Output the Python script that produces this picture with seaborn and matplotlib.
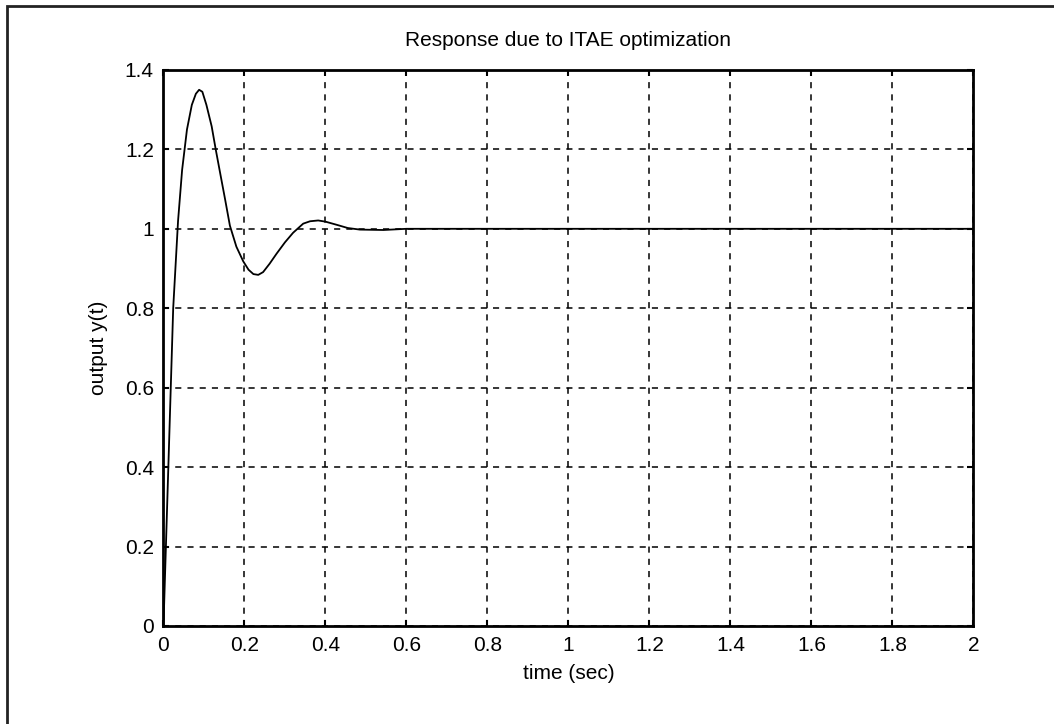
import numpy as np
import pandas as pd
import matplotlib
matplotlib.use("Agg")
import matplotlib.pyplot as plt
import seaborn as sns
from matplotlib.patches import Rectangle

# step response
time_sec = [0.0, 0.012, 0.024, 0.036, 0.046, 0.058, 0.070, 0.080, 0.088, 0.096,
            0.106, 0.119, 0.129, 0.140, 0.152, 0.164, 0.180, 0.197, 0.210,
            0.222, 0.234, 0.246, 0.262, 0.279, 0.300, 0.320, 0.345, 0.362,
            0.382, 0.400, 0.428, 0.455, 0.485, 0.543, 0.600, 0.800, 1.000,
            1.500, 2.000]
output_y = [0.0, 0.40, 0.80, 1.02, 1.148, 1.250, 1.312, 1.340, 1.350, 1.345,
            1.312, 1.258, 1.200, 1.140, 1.075, 1.008, 0.955, 0.918, 0.897,
            0.886, 0.884, 0.891, 0.912, 0.937, 0.966, 0.990, 1.013, 1.019,
            1.021, 1.018, 1.010, 1.002, 0.998, 0.997, 1.000, 1.000, 1.000,
            1.000, 1.000]
x_ticks = [0, 0.2, 0.4, 0.6, 0.8, 1, 1.2, 1.4, 1.6, 1.8, 2]
y_ticks = [0, 0.2, 0.4, 0.6, 0.8, 1, 1.2, 1.4]

df = pd.DataFrame({"t": time_sec, "y": output_y})

sns.set_theme(style="white")
plt.rcParams['font.family'] = ['Liberation Sans', 'DejaVu Sans']

fig = plt.figure(figsize=(10.54, 7.24), dpi=100)
ax = fig.add_axes([0.1551, 0.1354, 0.7685, 0.7680])

sns.lineplot(data=df, x="t", y="y", color="black", linewidth=1.3, ax=ax)

ax.set_xlim(0, 2)
ax.set_ylim(0, 1.4)
ax.set_xticks(x_ticks)
ax.set_yticks(y_ticks)
ax.set_xticklabels(["0", "0.2", "0.4", "0.6", "0.8", "1", "1.2", "1.4", "1.6", "1.8", "2"])
ax.set_yticklabels(["0", "0.2", "0.4", "0.6", "0.8", "1", "1.2", "1.4"])
ax.tick_params(direction="in", length=4, width=1.5, top=True, right=True,
               labelsize=15, colors="black", pad=7, bottom=True, left=True)
ax.grid(True, color="black", linestyle=(0, (4, 4)), linewidth=1.1)
for s in ax.spines.values():
    s.set_color("black")
    s.set_linewidth(2)

ax.set_title("Response due to ITAE optimization", fontsize=15, pad=17, color="black")
ax.set_xlabel("time (sec)", fontsize=15, labelpad=7, color="black")
ax.set_ylabel("output y(t)", fontsize=15, labelpad=12, color="black")

# outer frame like the exported figure window
fig.patches.append(Rectangle((7 / 1054, -0.1), 1.2, (724 - 6) / 724 + 0.1,
                             transform=fig.transFigure, fill=False,
                             edgecolor="#222222", linewidth=2))

fig.savefig("out.png", dpi=100)
